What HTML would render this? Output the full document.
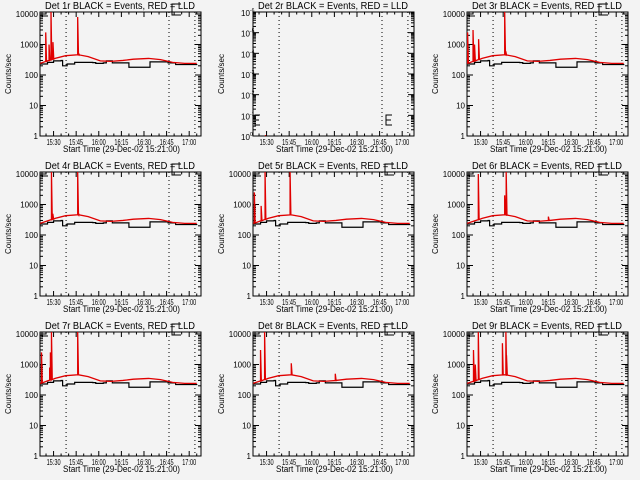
<!DOCTYPE html>
<html><head><meta charset="utf-8"><style>
html,body{margin:0;padding:0;background:#f3f3f3;}
svg{display:block;font-family:"Liberation Sans",sans-serif;}
</style></head><body>
<svg id="c" width="640" height="480" viewBox="0 0 640 480"></svg>
<script>
const xTickLabels = ["15:30","15:45","16:00","16:15","16:30","16:45","17:00"];
const xTickMinutes = [9,24,39,54,69,84,99];
const dottedMinutes = [17.3,85.6,102.8];
const blackTimes = [0,5,9,14,15,18,23,35,37,42,44,48,58,59,72,73,85,90,104];
const blackValues = [230,260,290,300,200,230,260,255,240,250,290,250,250,180,180,270,250,220,210];
const redTimes = [0,5,10,17,25,32,40,47,55,62,72,80,88,96,104];
const redValues = [240,290,350,430,460,400,290,280,300,330,350,320,260,240,240];
const detNames = ["1r","2r","3r","4r","5r","6r","7r","8r","9r"];
const spikeTimes = [
 [3.8,6,7.3,8.6,25,25.7],[],[0.4,4,5,7.7,25,25.7],
 [7.6,8.5,25,25.6],[0.9,5.4,8,24.6],[7.5,25,26,54],
 [1,6.4,6.9,7.6,25],[5,7.7,25.4,54.6],[4.3,5.5,7.5,23.5,25.8,26.2]];
const spikeValues = [
 [2500,1000,12000,1200,8000,500],[],[2500,3000,1000,1500,12000,600],
 [12000,500,12000,500],[2500,900,12000,12000],[10000,2000,12000,400],
 [2500,800,2500,12000,12000],[3000,12000,1100,500],[3000,1000,12000,5000,12000,2000]];

const svg=document.getElementById('c');
const NS='http://www.w3.org/2000/svg';
function el(tag,attrs,parent){const e=document.createElementNS(NS,tag);for(const k in attrs)e.setAttribute(k,attrs[k]);(parent||svg).appendChild(e);return e;}
const PW=161,PH=124,TMAX=(PW)/1.507,LMAX=4.066;

for(let p=0;p<9;p++){
  const col=p%3,row=Math.floor(p/3);
  const ox=Math.round(col*213.4),oy=row*160;
  const L=ox+40,T=oy+12,R=L+PW,B=T+PH;
  const g=el('g',{});
  
  
  const xs=t=>L+t*1.507;
  const isEmpty=(p===1);
  const ys=v=>{let l=Math.log10(v);return B-(l/LMAX)*PH;};
  const tt=el('text',{x:ox+45,y:oy+9,'font-size':'10',textLength:150,lengthAdjust:'spacingAndGlyphs',fill:'#000'},g);
  tt.textContent='Det '+detNames[p]+' BLACK = Events, RED = LLD';
  
  
  const box=el('rect',{x:L,y:T,width:PW,height:PH,fill:'none',stroke:'#000','stroke-width':1},g);
  
  
  for(let i=0;i<xTickMinutes.length;i++){
    const x=xs(xTickMinutes[i]);
    el('line',{x1:x,y1:B,x2:x,y2:B-5,stroke:'#000'},g);
    el('line',{x1:x,y1:T,x2:x,y2:T+5,stroke:'#000'},g);
    const lb=el('text',{x:x-7,y:B+9,'font-size':'8',textLength:14,lengthAdjust:'spacingAndGlyphs'},g);
    lb.textContent=xTickLabels[i];
    
    
  }
  for(let m=4;m<TMAX;m+=5){const x=xs(m);if(xTickMinutes.includes(m))continue;
    el('line',{x1:x,y1:B,x2:x,y2:B-2.5,stroke:'#000'},g);el('line',{x1:x,y1:T,x2:x,y2:T+2.5,stroke:'#000'},g);}
  const xt=el('text',{x:ox+63,y:oy+152,'font-size':'9',textLength:117,lengthAdjust:'spacingAndGlyphs'},g);
  xt.textContent='Start Time (29-Dec-02 15:21:00)';
  
  
  const yt=el('text',{x:0,y:0,'font-size':'8','text-anchor':'middle',transform:'translate('+(ox+11)+','+(oy+74)+') rotate(-90)'},g);
  yt.textContent='Counts/sec';
  
  
  if(!isEmpty){
    const labs=["1","10","100","1000","10000"];
    for(let d=0;d<=4;d++){
      const y=B-(d/LMAX)*PH;
      el('line',{x1:L,y1:y,x2:L+6,y2:y,stroke:'#000'},g);
      el('line',{x1:R,y1:y,x2:R-6,y2:y,stroke:'#000'},g);
      const lb=el('text',{x:L-2,y:y+3,'font-size':'8','text-anchor':'end'},g);
      lb.textContent=labs[d];
      
      
      if(d<4)for(let k=2;k<=9;k++){const yy=B-((d+Math.log10(k))/LMAX)*PH;
        el('line',{x1:L,y1:yy,x2:L+3,y2:yy,stroke:'#000'},g);el('line',{x1:R,y1:yy,x2:R-3,y2:yy,stroke:'#000'},g);}
    }
  } else {
    const sp=PH/6;
    for(let d=0;d<=6;d++){
      const y=T+d*sp;
      el('line',{x1:L,y1:y,x2:L+6,y2:y,stroke:'#000'},g);
      el('line',{x1:R,y1:y,x2:R-6,y2:y,stroke:'#000'},g);
      const lb=el('text',{x:L-12,y:y+4,'font-size':'8','text-anchor':'start'},g);
      lb.textContent='10';
      
      
      const ex=el('text',{x:L-3,y:y,'font-size':'5','text-anchor':'start'},g);
      ex.textContent=(d===6?'0':'-'+(6-d));
      if(d<6)for(let k=2;k<=9;k++){const yy=T+(d+1)*sp-Math.log10(k)*sp;
        el('line',{x1:L,y1:yy,x2:L+3,y2:yy,stroke:'#000'},g);el('line',{x1:R,y1:yy,x2:R-3,y2:yy,stroke:'#000'},g);}
    }
  }
  dottedMinutes.forEach(m=>{const x=xs(m);el('line',{x1:x,y1:T,x2:x,y2:B,stroke:'#000','stroke-dasharray':'1,3'},g);});
  if(!isEmpty){
    el('path',{d:`M${L+2},${T} V${T+4} H${L+8}`,fill:'none',stroke:'#000'},g);
    el('path',{d:`M${ox+181},${oy+4} H${ox+172} V${oy+15} H${ox+181}`,fill:'none',stroke:'#000'},g);
  } else {
    el('path',{d:`M${L+7},${oy+115} H${L+2} V${oy+125} H${L+7} M${L+2},${oy+120} H${L+6}`,fill:'none',stroke:'#000'},g);
    el('path',{d:`M${ox+179},${oy+115} H${ox+173} V${oy+125} H${ox+179} M${ox+173},${oy+120} H${ox+178}`,fill:'none',stroke:'#000'},g);
    el('rect',{x:L+12,y:B-1,width:1,height:1,fill:'#e00000'},g);
    continue;
  }
  const cid='clip'+p;
  const cp=el('clipPath',{id:cid},g);el('rect',{x:L,y:T,width:PW,height:PH},cp);
  let d='';
  for(let i=0;i<blackTimes.length;i++){
    const x=xs(blackTimes[i]),y=ys(blackValues[i]);
    if(i===0)d+=`M${x},${y}`;else d+=` V${y}`;
    const nx=i<blackTimes.length-1?xs(blackTimes[i+1]):xs(blackTimes[i]);
    d+=` H${nx}`;
  }
  const bl=el('path',{d:d,fill:'none',stroke:'#000','stroke-width':1.2,'clip-path':`url(#${cid})`},g);
  
  
  const baseAt=t=>{for(let i=0;i<redTimes.length-1;i++){if(t<=redTimes[i+1]){const f=(t-redTimes[i])/(redTimes[i+1]-redTimes[i]);return redValues[i]+f*(redValues[i+1]-redValues[i]);}}return redValues[redValues.length-1];};
  const sT=spikeTimes[p],sV=spikeValues[p];
  const events=[];
  redTimes.forEach((t,i)=>events.push([t,redValues[i],0]));
  sT.forEach((t,i)=>events.push([t,sV[i],1]));
  events.sort((a,b)=>a[0]-b[0]);
  let rd='';
  events.forEach((e,i)=>{
    const x=xs(e[0]);
    if(e[2]){const by=ys(baseAt(e[0]));rd+=` L${x},${by} L${x},${ys(e[1])} L${x+0.8},${by}`;}
    else rd+=(i===0?'M':' L')+`${x},${ys(e[1])}`;
  });
  const rl=el('path',{d:rd,fill:'none',stroke:'#e00000','stroke-width':1.3,'clip-path':`url(#${cid})`},g);
  
  
}
</script>
</body></html>
